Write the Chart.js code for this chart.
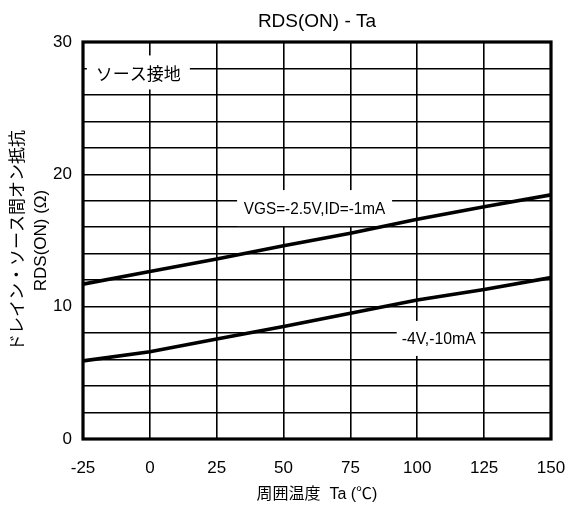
<!DOCTYPE html>
<html><head><meta charset="utf-8">
<script src="https://cdn.jsdelivr.net/npm/chart.js@4"></script>
<style>html,body{margin:0;padding:0;background:#fff}</style>
</head><body>
<canvas id="c" width="568" height="507"></canvas>
<script>
// ---- data ----
const temps = [-25, 0, 25, 50, 75, 100, 125, 150];
const rdsVgs25 = [11.7, 12.65, 13.6, 14.6, 15.55, 16.6, 17.55, 18.45];
const rdsVgs4 = [5.9, 6.6, 7.55, 8.5, 9.5, 10.5, 11.3, 12.2];
const yLabelValues = [0, 10, 20, 30];
const titleText = 'RDS(ON) - Ta';
const xTitle = '周囲温度  Ta (℃)';
const yTitle = ['ドレイン・ソース間オン抵抗', 'RDS(ON) (Ω)'];
const noteTexts = ['ソース接地', 'VGS=-2.5V,ID=-1mA', '-4V,-10mA'];
const noteAnchorX = [-4.3, 61.6, 108];
const noteAnchorY = [27.7, 17.45, 7.6];

const SANS = "'Liberation Sans', Arial, sans-serif";
const JP = "'Liberation Sans', 'Noto Sans CJK JP', sans-serif";

// ---- note boxes (sizes in px) ----
const noteBoxes = [
  {w: 103, h: 34, font: "17px 'Noto Sans CJK JP', sans-serif", sx: 1},
  {w: 155, h: 36, font: "17px 'Liberation Sans', Arial, sans-serif", sx: 0.9},
  {w: 84, h: 35, font: "17px 'Liberation Sans', Arial, sans-serif", sx: 0.93}
];

const notesPlugin = {
  id: 'notes',
  beforeDatasetsDraw(chart) {
    const {ctx, scales: {x, y}} = chart;
    ctx.save();
    noteTexts.forEach((t, i) => {
      const b = noteBoxes[i];
      const px = x.getPixelForValue(noteAnchorX[i]);
      const py = y.getPixelForValue(noteAnchorY[i]);
      ctx.fillStyle = '#fff';
      ctx.fillRect(px - b.w / 2, py - b.h / 2, b.w, b.h);
      ctx.save();
      ctx.translate(px, py);
      ctx.scale(b.sx, 1);
      ctx.font = b.font;
      ctx.fillStyle = '#000';
      ctx.textAlign = 'center';
      ctx.textBaseline = 'middle';
      ctx.fillText(t, 0, 1);
      ctx.restore();
    });
    ctx.restore();
  }
};

const framePlugin = {
  id: 'frame',
  afterDraw(chart) {
    const {ctx, chartArea: a} = chart;
    ctx.save();
    ctx.strokeStyle = '#000';
    ctx.lineWidth = 3.2;
    ctx.strokeRect(a.left, a.top, a.right - a.left, a.bottom - a.top);
    ctx.restore();
  }
};

const toPts = arr => temps.map((t, i) => ({x: t, y: arr[i]}));

new Chart(document.getElementById('c'), {
  type: 'line',
  data: {
    datasets: [
      {data: toPts(rdsVgs25), borderColor: '#000', borderWidth: 3.6, pointRadius: 0, tension: 0, fill: false},
      {data: toPts(rdsVgs4), borderColor: '#000', borderWidth: 3.6, pointRadius: 0, tension: 0, fill: false}
    ]
  },
  options: {
    responsive: false,
    devicePixelRatio: 1,
    animation: false,
    layout: {padding: {left: 0, right: 17, top: 0, bottom: 0}},
    plugins: {
      legend: {display: false},
      tooltip: {enabled: false},
      title: {
        display: true, text: titleText, color: '#000', fullSize: false,
        font: {family: SANS, size: 19, weight: 'normal', lineHeight: 1.2},
        padding: {top: 10.5, bottom: 8.7}
      }
    },
    scales: {
      x: {
        type: 'linear', min: -25, max: 150,
        ticks: {stepSize: 25, color: '#000', padding: 19, font: {family: SANS, size: 17}},
        grid: {color: '#000', lineWidth: 1.6, drawTicks: false},
        border: {display: false},
        title: {display: true, text: xTitle, color: '#000', font: {family: JP, size: 16, lineHeight: 1.2}, padding: {top: 0, bottom: 3}},
        afterFit: s => { s.height = 68; s.paddingLeft = 0; s.paddingRight = 0; }
      },
      y: {
        type: 'linear', min: 0, max: 30,
        ticks: {stepSize: 2, color: '#000', padding: 11, font: {family: SANS, size: 17},
          callback: v => yLabelValues.includes(v) ? String(v) : ''},
        grid: {color: '#000', lineWidth: 1.6, drawTicks: false},
        border: {display: false},
        title: {display: true, text: yTitle, color: '#000', font: {family: JP, size: 17, lineHeight: 1.4}, padding: {top: 6, bottom: 0}},
        afterFit: s => { s.width = 83; s.paddingTop = 0; s.paddingBottom = 0; }
      }
    }
  },
  plugins: [notesPlugin, framePlugin]
});
</script></body></html>
